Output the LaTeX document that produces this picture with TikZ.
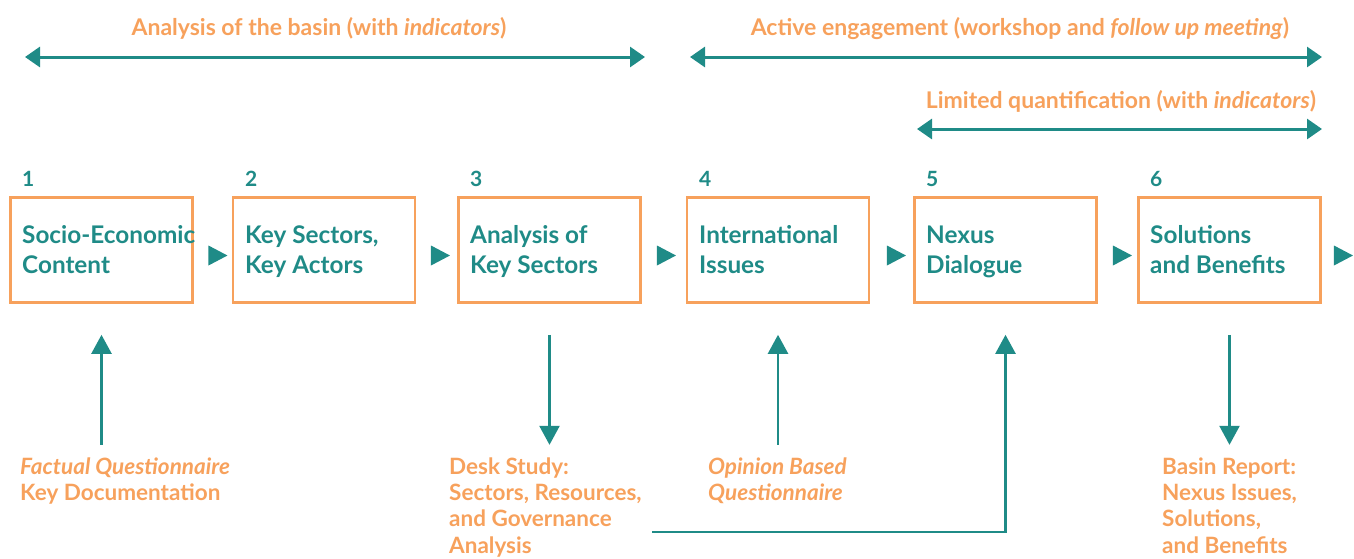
\documentclass[tikz,border=0pt]{standalone}
\usepackage{fontspec}
\setmainfont{Lato}
\usetikzlibrary{arrows.meta,shapes.geometric}
\definecolor{tealc}{HTML}{1F8B87}
\definecolor{orng}{HTML}{F7A15C}
\begin{document}
\begin{tikzpicture}[x=1pt,y=-1pt,
  box/.style={draw=orng,line width=2.6pt,minimum width=182pt,minimum height=105pt,inner sep=0pt},
  boxtext/.style={anchor=base west,inner sep=0pt,align=left,text=tealc,font=\fontsize{24.3}{30}\selectfont\bfseries},
  numtext/.style={anchor=base west,inner sep=0pt,text=tealc,font=\fontsize{21}{24}\selectfont\bfseries},
  headtext/.style={anchor=base,inner sep=0pt,text=orng,font=\fontsize{23}{27}\selectfont\bfseries},
  srctext/.style={anchor=base west,inner sep=0pt,align=left,text=orng,font=\fontsize{22.5}{26.4}\selectfont\bfseries},
  tri/.style={isosceles triangle,isosceles triangle stretches,fill=tealc,draw=none,minimum width=20pt,minimum height=19pt,inner sep=0pt},
  span/.style={draw=tealc,line width=3pt,{Triangle[length=15pt,width=20pt]}-{Triangle[length=15pt,width=20pt]}},
  conn/.style={draw=tealc,line width=2.4pt,-{Triangle[length=19pt,width=20pt]}}
]
\useasboundingbox (0,0) rectangle (1354,558);

% boxes
\node[box] (b1) at (101.5,250) {};
\node[box] (b2) at (324,250) {};
\node[box] (b3) at (549.5,250) {};
\node[box] (b4) at (778,250) {};
\node[box] (b5) at (1005.5,250) {};
\node[box] (b6) at (1229.5,250) {};

% box texts (base = last line)
\node[boxtext] (x1) at (22,273) {Socio-Economic\\Content};
\node[boxtext] (x2) at (245,273) {Key Sectors,\\Key Actors};
\node[boxtext] (x3) at (470,273) {Analysis of\\Key Sectors};
\node[boxtext] (x4) at (699,273) {International\\Issues};
\node[boxtext] (x5) at (926,273) {Nexus\\Dialogue};
\node[boxtext] (x6) at (1150,273) {Solutions\\and Benefits};

% numbers
\node[numtext] (n1) at (22,186) {1};
\node[numtext] (n2) at (245,186) {2};
\node[numtext] (n3) at (470,186) {3};
\node[numtext] (n4) at (699,186) {4};
\node[numtext] (n5) at (926,186) {5};
\node[numtext] (n6) at (1150,186) {6};

% triangles between boxes
\node[tri] (t1) at (214.5,255.5) {};
\node[tri] (t2) at (437,255.5) {};
\node[tri] (t3) at (663,255.5) {};
\node[tri] (t4) at (893,255.5) {};
\node[tri] (t5) at (1119,255.5) {};
\node[tri] (t6) at (1340,255.5) {};

% header spans
\node[headtext] (h1) at (319,35) {Analysis of the basin (with \textit{indicators})};
\node[headtext] (h2) at (1020,35) {Active engagement (workshop and \textit{follow up meeting})};
\node[headtext] (h3) at (1121,108) {Limited quantification (with \textit{indicators})};
\coordinate (s1l) at (25,57);
\coordinate (s1r) at (645,57);
\coordinate (s2l) at (690,57);
\coordinate (s2r) at (1322,57);
\coordinate (s3l) at (917,129);
\coordinate (s3r) at (1322,129);
\draw[span] (s1l) -- (s1r);
\draw[span] (s2l) -- (s2r);
\draw[span] (s3l) -- (s3r);

% sources / outputs (base = last line)
\node[srctext] (q1) at (20,500.4) {\textit{Factual Questionnaire}\\Key Documentation};
\node[srctext] (q3) at (449,553.2) {Desk Study:\\Sectors, Resources,\\and Governance\\Analysis};
\node[srctext] (q4) at (708,500.4) {\textit{Opinion Based}\\\textit{Questionnaire}};
\node[srctext] (q6) at (1162,553.2) {Basin Report:\\Nexus Issues,\\Solutions,\\and Benefits};

% vertical connectors
\draw[conn] ([yshift=-141pt]b1.south) -- ([yshift=-31pt]b1.south);
\draw[conn] ([yshift=-31pt]b3.south) -- ([yshift=-141pt]b3.south);
\draw[conn] ([yshift=-141pt]b4.south) -- ([yshift=-31pt]b4.south);
\draw[conn] ([yshift=-31pt]b6.south) -- ([yshift=-141pt]b6.south);
\coordinate (ds) at (652,532);
\draw[conn] (ds) -| ([yshift=-31pt]b5.south);
\end{tikzpicture}
\end{document}
